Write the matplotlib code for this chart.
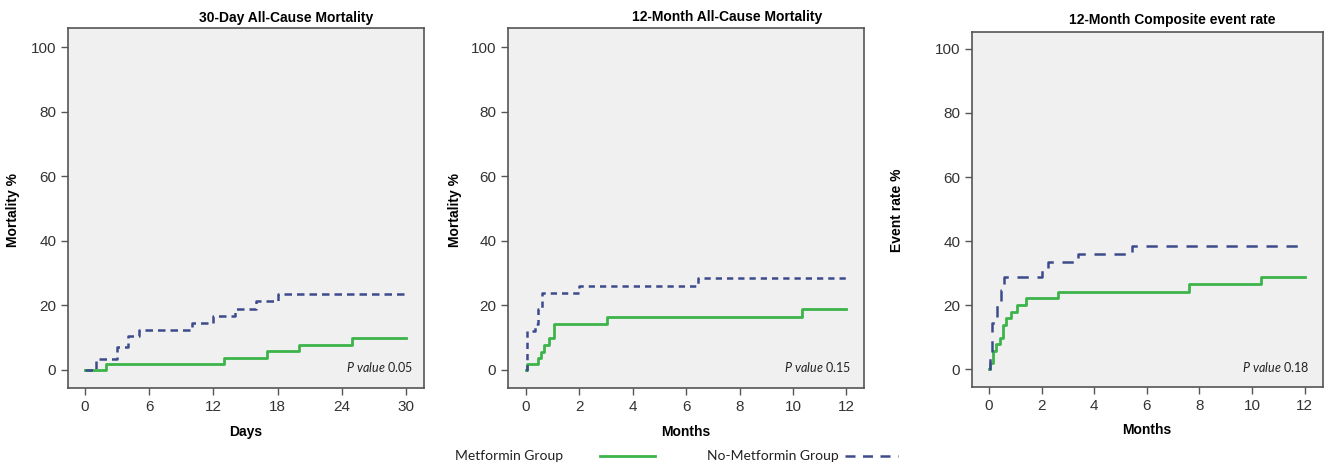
import matplotlib
matplotlib.use("Agg")
import matplotlib.pyplot as plt
from matplotlib.lines import Line2D

plt.rcParams['font.family'] = ['Liberation Sans', 'DejaVu Sans']
plt.rcParams['mathtext.fontset'] = 'custom'
plt.rcParams['mathtext.it'] = 'Lato:italic'
plt.rcParams['mathtext.rm'] = 'Lato'

# --- data ---
titles = ['30-Day All-Cause Mortality', '12-Month All-Cause Mortality', '12-Month Composite event rate']
xlabels = ['Days', 'Months', 'Months']
ylabels = ['Mortality %', 'Mortality %', 'Event rate %']
pvalues = ['0.05', '0.15', '0.18']
xticks = [[0, 6, 12, 18, 24, 30], [0, 2, 4, 6, 8, 10, 12], [0, 2, 4, 6, 8, 10, 12]]
yticks = [0, 20, 40, 60, 80, 100]
x_end = [30, 12, 12]

# 30-day mortality
met_30d_t = [0, 2, 13, 17, 20, 25]
met_30d_v = [0, 1.9, 3.8, 5.8, 7.8, 9.8]
nomet_30d_t = [0, 1, 3, 4, 5, 10, 12, 14, 16, 18]
nomet_30d_v = [0, 3.4, 7.0, 10.6, 12.4, 14.5, 16.6, 18.9, 21.2, 23.4]

# 12-month mortality
met_12m_t = [0, 0.05, 0.44, 0.55, 0.68, 0.86, 1.06, 3.05, 10.34]
met_12m_v = [0, 1.8, 3.6, 5.7, 7.7, 9.8, 14.2, 16.3, 18.9]
nomet_12m_t = [0, 0.05, 0.35, 0.45, 0.6, 2.0, 6.45]
nomet_12m_v = [0, 11.9, 14.3, 19.0, 23.8, 26.1, 28.6]

# 12-month composite event rate
met_comp_t = [0, 0.02, 0.16, 0.27, 0.42, 0.52, 0.63, 0.82, 1.05, 1.39, 2.61, 7.59, 10.35]
met_comp_v = [0, 1.8, 5.6, 7.8, 9.8, 13.8, 15.8, 17.9, 20.0, 22.1, 24.2, 26.5, 28.9]
nomet_comp_t = [0, 0.02, 0.1, 0.3, 0.45, 0.58, 2.0, 2.25, 3.4, 5.45]
nomet_comp_v = [0, 4.9, 14.3, 20.0, 24.7, 28.9, 31.2, 33.5, 36.1, 38.5]

metformin = [(met_30d_t, met_30d_v), (met_12m_t, met_12m_v), (met_comp_t, met_comp_v)]
no_metformin = [(nomet_30d_t, nomet_30d_v), (nomet_12m_t, nomet_12m_v), (nomet_comp_t, nomet_comp_v)]

GREEN = '#3cb44a'
BLUE = '#3d4a8c'
W, H = 1325, 465

# axes boxes in pixels: left, top, right, bottom
boxes = [(68, 28, 424, 388), (508, 28, 864, 388), (972, 32, 1323, 387)]
xlims = [(-1.6, 31.7), (-0.67, 12.66), (-0.65, 12.7)]
ylims = [(-5.6, 105.9), (-5.6, 105.9), (-5.6, 105.3)]
dash_styles = [(3, 2), (2.5, 2), (4.5, 3.5)]
title_pos = [(286, 18), (727, 17), (1172, 20)]
ylab_pos = [(13, 210), (455, 210), (897, 210)]
xlab_pos = [(246, 432), (686, 432), (1147, 430)]
pval_pos = [(413, 367), (851, 367), (1309, 367)]

fig = plt.figure(figsize=(W / 100, H / 100), dpi=100)


def fx(px):
    return px / W


def fy(py):
    return 1 - py / H


for i in range(3):
    l, t, r, b = boxes[i]
    ax = fig.add_axes([fx(l), fy(b), (r - l) / W, (b - t) / H])
    ax.set_facecolor('#f0f0f0')

    mt, mv = metformin[i]
    nt, nv = no_metformin[i]
    ax.step(mt + [x_end[i]], mv + [mv[-1]], where='post', color=GREEN, lw=2.0)
    ax.step(nt + [x_end[i]], nv + [nv[-1]], where='post', color=BLUE, lw=1.8,
            linestyle=(0, dash_styles[i]))

    ax.set_xlim(*xlims[i])
    ax.set_ylim(*ylims[i])
    ax.set_xticks(xticks[i])
    ax.set_yticks(yticks)
    ax.tick_params(colors='#555555', labelcolor='#333333', labelsize=11, length=5, width=1)
    for s in ax.spines.values():
        s.set_color('#555555')
        s.set_linewidth(1.2)

    fig.text(fx(title_pos[i][0]), fy(title_pos[i][1]), titles[i], ha='center', va='center',
             fontsize=10, fontweight='bold')
    fig.text(fx(ylab_pos[i][0]), fy(ylab_pos[i][1]), ylabels[i], ha='center', va='center',
             rotation=90, fontsize=10, fontweight='bold')
    fig.text(fx(xlab_pos[i][0]), fy(xlab_pos[i][1]), xlabels[i], ha='center', va='center',
             fontsize=10, fontweight='bold')
    fig.text(fx(pval_pos[i][0]), fy(pval_pos[i][1]), r'$\it{P\ value}$ ' + pvalues[i],
             ha='right', va='center', fontsize=9, family='Lato', color='#222222')

# legend at the bottom
fig.text(fx(455), fy(456), 'Metformin Group', ha='left', va='center', fontsize=10,
         family='Lato', color='#222222')
fig.add_artist(Line2D([fx(600), fx(655)], [fy(456), fy(456)], color=GREEN, lw=2.0))
fig.text(fx(707), fy(456), 'No-Metformin Group', ha='left', va='center', fontsize=10,
         family='Lato', color='#222222')
fig.add_artist(Line2D([fx(845), fx(898)], [fy(456), fy(456)], color=BLUE, lw=1.8,
                      linestyle=(0, (4, 3))))

fig.savefig('out.png', dpi=100)
